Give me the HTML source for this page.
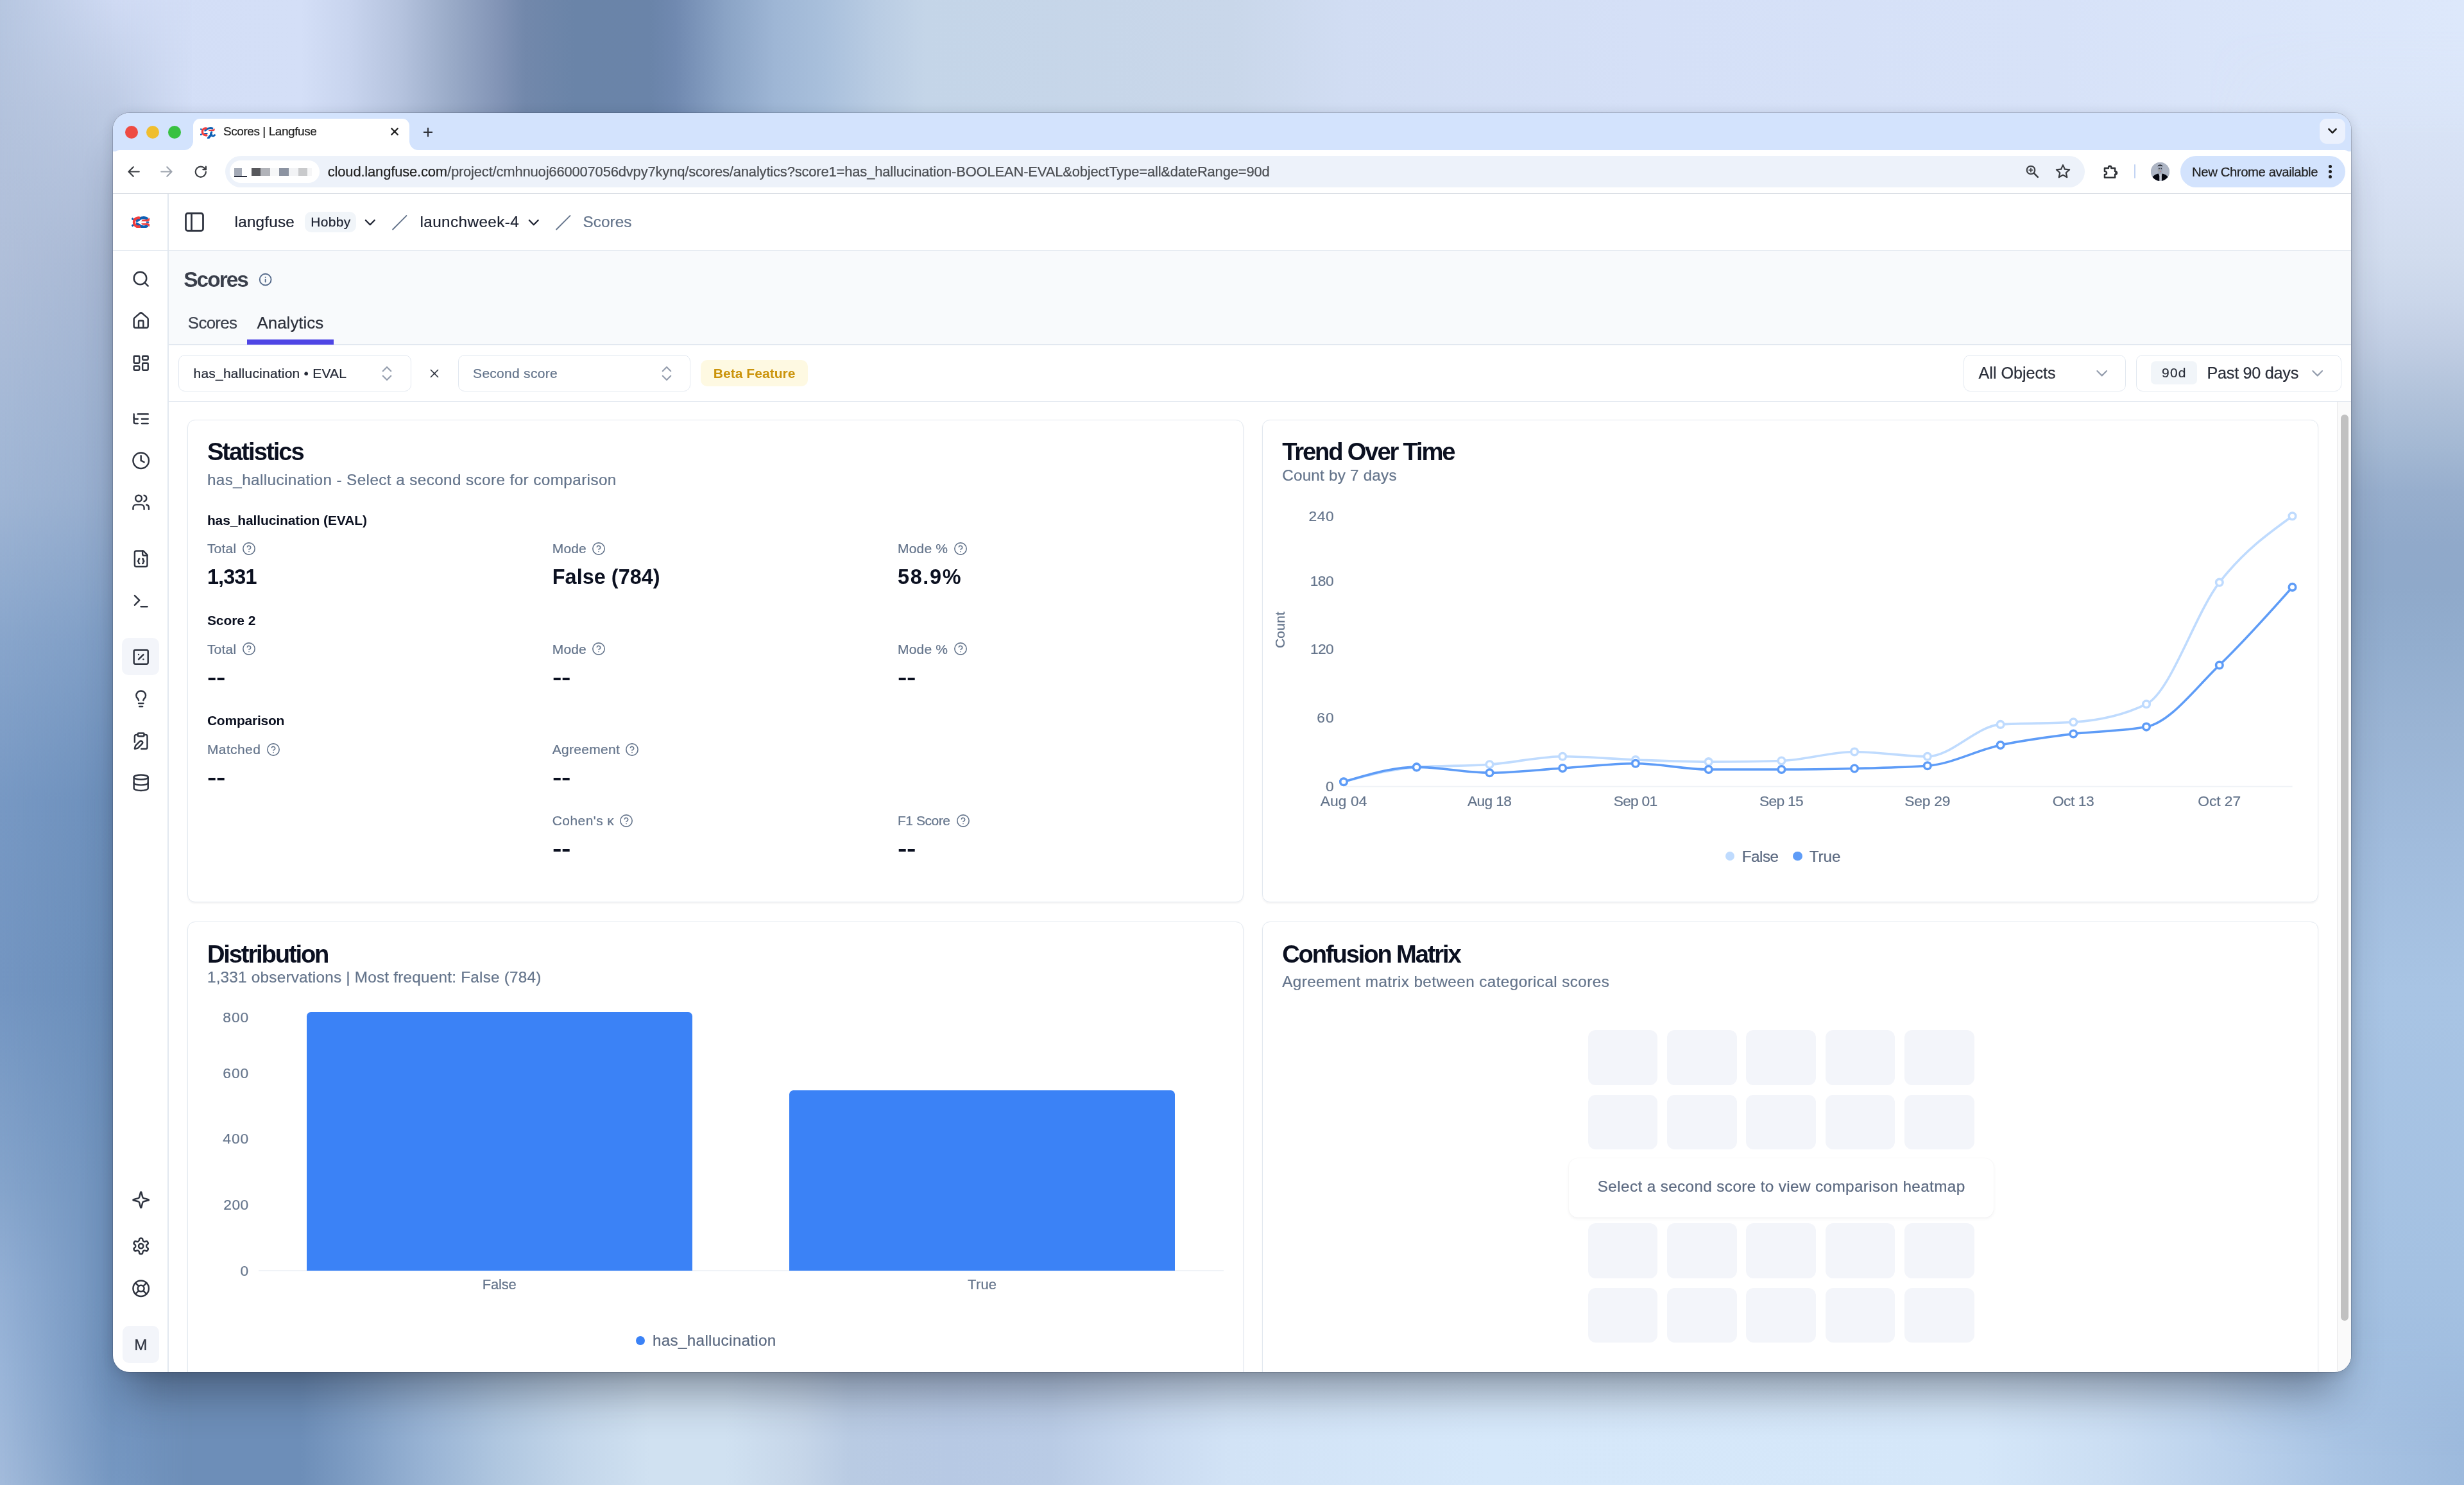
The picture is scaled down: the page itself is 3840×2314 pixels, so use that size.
<!DOCTYPE html>
<html lang="en"><head><meta charset="utf-8"><title>Scores | Langfuse</title>
<style>
html,body{margin:0;padding:0}
body{width:3840px;height:2314px;overflow:hidden;position:relative;background:#a9bfdd;font-family:"Liberation Sans",sans-serif;}
div,span.t,svg.i,svg.a,.g{position:absolute;box-sizing:border-box}
.g{left:0;top:0;display:block}
span.t{white-space:nowrap;line-height:1;display:block;-webkit-text-stroke:0.22px currentColor}
#win{left:176px;top:176px;width:3488px;height:1962px;border-radius:26px;overflow:hidden;background:#fff;}
#winin{left:-176px;top:-176px;width:3840px;height:2314px;will-change:transform}
#shadow{left:176px;top:176px;width:3488px;height:1962px;border-radius:26px;box-shadow:0 0 0 1px rgba(50,60,80,.24),0 54px 68px -24px rgba(28,34,48,.43),0 2px 18px rgba(28,34,48,.17);}
.card{background:#fff;border:1.5px solid #e2e8f0;border-radius:12px;box-shadow:0 1.5px 3px rgba(15,23,42,.05)}
.sel{background:#fff;border:1.5px solid #e2e8f0;border-radius:10px}
</style></head>
<body>
<div id="bgtop" style="left:0;top:0;width:3840px;height:1200px;background:linear-gradient(90deg,#b6c6e0 0.00%,#c3d0ea 2.03%,#d3def6 5.08%,#d4dff7 12.19%,#c8d4ee 14.19%,#b5c3de 16.22%,#9aabc8 18.26%,#8193b5 20.31%,#7288ab 21.30%,#6a84a8 23.33%,#6a84a9 26.38%,#7089b0 27.40%,#8aa3c5 29.43%,#9eb6d5 31.46%,#a9c0dc 33.49%,#b9cce3 35.52%,#c4d5e8 37.55%,#c9d7ea 50.00%,#d1ddf3 54.69%,#d5e0f7 66.67%,#d7e2f8 83.33%,#dde8fb 100.00%)"></div>
<div id="bgbot" style="left:0;top:1200px;width:3840px;height:1114px;background:linear-gradient(90deg,#9fb8d9 0.00%,#86a6cd 2.03%,#7899c3 4.06%,#6d8eb8 6.09%,#6d8eb8 12.19%,#7d9cc3 14.19%,#98b3d4 17.24%,#b0c7e0 20.31%,#c3d6ea 23.33%,#d0e1f1 26.38%,#d0e1f1 29.43%,#c6d6e9 32.47%,#b9cbe3 34.51%,#b7c9e4 38.54%,#b9cbe5 42.63%,#c9daf0 46.69%,#d2e3f6 50.00%,#d6e8fa 60.42%,#d5e7f9 80.21%,#cbdef3 85.62%,#b9d0eb 91.04%,#a9c4e4 95.10%,#9dbadd 100.00%)"></div>
<div id="bgleft" style="left:0;top:0;width:300px;height:2314px;-webkit-mask-image:linear-gradient(90deg,#000 0,#000 60%,transparent 100%);mask-image:linear-gradient(90deg,#000 0,#000 60%,transparent 100%)"><div style="left:0;top:0;width:300px;height:2314px;background:linear-gradient(180deg,#cfdaf3 0.00%,#bccae3 7.61%,#a9b9d5 17.29%,#97aecf 33.32%,#7f9ec6 43.22%,#6d90bc 54.02%,#6a8eba 66.64%,#7093be 79.95%,#7093be 86.43%,#6f91bc 92.39%,#7597c1 100.00%)"></div><div style="left:0;top:0;width:176px;height:2314px;background:linear-gradient(180deg,#b6c6e0 0.00%,#b3c2dc 7.61%,#b0bfd9 17.29%,#9fb5d4 33.32%,#88a5cb 43.22%,#7798c3 54.02%,#7395c1 66.64%,#85a4cb 79.95%,#93afd4 86.43%,#9ab5d8 92.39%,#a3bbdb 100.00%);-webkit-mask-image:linear-gradient(90deg,#000,transparent);mask-image:linear-gradient(90deg,#000,transparent)"></div></div>
<div id="bgright" style="left:3440px;top:0;width:400px;height:2314px;background:linear-gradient(180deg,#dde8fb 0.00%,#d9e4f7 7.61%,#d6e0f3 12.96%,#d1dcee 17.29%,#cad6ea 20.31%,#c0cde3 23.34%,#b1c2da 26.71%,#a3b8d3 30.25%,#97aecd 33.15%,#90a9ca 36.73%,#8fa9ca 39.54%,#92adce 43.22%,#9ab4d4 49.14%,#a0bbdc 56.18%,#a8c4e4 66.64%,#a4c1e2 86.43%,#9dbadd 100.00%);-webkit-mask-image:linear-gradient(180deg,transparent 2%,#000 9%,#000 90%,transparent 98%),linear-gradient(270deg,#000 50%,transparent 100%);mask-image:linear-gradient(180deg,transparent 2%,#000 9%,#000 90%,transparent 98%),linear-gradient(270deg,#000 50%,transparent 100%);-webkit-mask-composite:source-in;mask-composite:intersect"></div>
<div id="shadow"></div>
<div id="win"><div id="winin">
<header class="g" id="browser-chrome">
<div style="left:176.00px;top:176.00px;width:3488.00px;height:60.00px;background:#d3e3fd"></div>
<div style="left:176.00px;top:234.00px;width:3488.00px;height:67.00px;background:#fff;border-radius:10px 10px 0 0"></div>
<div style="left:176.00px;top:300.60px;width:3488.00px;height:1.40px;background:#dbdfe5"></div>
<div style="left:194.90px;top:195.60px;width:20.20px;height:20.20px;background:#ee4b43;border-radius:50%"></div>
<div style="left:228.20px;top:195.60px;width:20.20px;height:20.20px;background:#f0be2e;border-radius:50%"></div>
<div style="left:261.60px;top:195.60px;width:20.20px;height:20.20px;background:#38c141;border-radius:50%"></div>
<div style="left:301.00px;top:185.00px;width:337.00px;height:51.00px;background:#fff;border-radius:11px 11px 0 0"></div>
<div style="left:287.00px;top:220.00px;width:14.00px;height:14.00px;background:radial-gradient(circle at 0 0,rgba(255,255,255,0) 13.5px,#fff 14.3px)"></div>
<div style="left:638.00px;top:220.00px;width:14.00px;height:14.00px;background:radial-gradient(circle at 100% 0,rgba(255,255,255,0) 13.5px,#fff 14.3px)"></div>
<svg class="a" style="left:312.20px;top:197.50px" width="23.80" height="18.84" viewBox="0 0 24 19"><g fill="none" stroke="#0c5fb4"><path d="M0.3 2.6L2.4 4.2M0.3 12.4L2.4 10.8" stroke-width="2.4"/><path d="M6.6 5.9C9 5.2 10.6 2.6 13.6 1.9 16 1.4 18.4 1.6 20.2 2.6" stroke-width="3"/><path d="M6.2 10.2H11.6" stroke-width="2.2"/><path d="M10.8 2.3C7.4 0.9 3.4 3.2 3.4 7.4 3.4 11.6 7.4 13.9 11.2 12.5" stroke="#f03e3e" stroke-width="3.3"/><path d="M12.8 17.3L17.6 11.4" stroke-width="3.6" stroke-linecap="round"/><path d="M19 7.4A3.4 3.4 0 1 0 23.3 11.6" stroke-width="2.9"/></g><path d="M12.8 6.1L14.4 4.3 19.6 4.1 22.6 2.2 23 5 20.8 6.2z" fill="#f03e3e"/></svg>
<span class="t" style="left:348.00px;top:195.30px;font-size:19px;color:#1f1f1f;letter-spacing:-0.441px;">Scores | Langfuse</span>
<svg class="i" style="left:604.50px;top:195.30px;" width="20" height="20" viewBox="0 0 20 20" fill="none" stroke="#1f1f1f" stroke-width="2.3" stroke-linecap="round" stroke-linejoin="round"><path d="M5.3 5.3l9.4 9.4M14.7 5.3L5.3 14.7"/></svg>
<svg class="i" style="left:656.80px;top:195.50px;" width="20" height="20" viewBox="0 0 20 20" fill="none" stroke="#30333a" stroke-width="2.15" stroke-linecap="round" stroke-linejoin="round"><path d="M10 3.8v12.4M3.8 10h12.4"/></svg>
<div style="left:3614.50px;top:185.00px;width:40.50px;height:39.40px;background:#ebf1fd;border-radius:11px"></div>
<svg class="i" style="left:3624.80px;top:194.40px;" width="20" height="20" viewBox="0 0 20 20" fill="none" stroke="#1f1f1f" stroke-width="2.6" stroke-linecap="round" stroke-linejoin="round"><path d="M4.4 7.2l5.6 5.6 5.6-5.6"/></svg>
<svg class="i" style="left:196.60px;top:256.10px;" width="23" height="23" viewBox="0 0 24 24" fill="none" stroke="#3a3d42" stroke-width="2.25" stroke-linecap="round" stroke-linejoin="round"><path d="M20.6 12H3.8M11.2 4.4L3.6 12l7.6 7.6"/></svg>
<svg class="i" style="left:248.30px;top:256.10px;" width="23" height="23" viewBox="0 0 24 24" fill="none" stroke="#9ea4ae" stroke-width="2.25" stroke-linecap="round" stroke-linejoin="round"><path d="M3.4 12h16.8M12.8 4.4l7.6 7.6-7.6 7.6"/></svg>
<svg class="i" style="left:301.80px;top:256.60px;" width="21.6" height="21.6" viewBox="0 0 24 24" fill="none" stroke="#3a3d42" stroke-width="2.45" stroke-linecap="round" stroke-linejoin="round"><path d="M21 12a9 9 0 1 1-9-9c2.52 0 4.93 1 6.74 2.74L21 8"/><path d="M21 3v5h-5"/></svg>
<div style="left:350.50px;top:243.00px;width:2898.90px;height:49.00px;background:#edf2fa;border-radius:24.5px"></div>
<div style="left:357.50px;top:250.00px;width:140.50px;height:34.50px;background:#fff;border-radius:17.3px"></div>
<div style="left:364.80px;top:262.00px;width:12.00px;height:11.80px;background:#a4aab6"></div>
<div style="left:392.00px;top:262.00px;width:14.30px;height:11.80px;background:#57585c"></div>
<div style="left:406.30px;top:262.00px;width:14.50px;height:11.80px;background:#b1b3b9"></div>
<div style="left:420.80px;top:262.00px;width:14.20px;height:11.80px;background:#f6f7f8"></div>
<div style="left:435.00px;top:262.00px;width:15.00px;height:11.80px;background:#8c93a1"></div>
<div style="left:450.00px;top:262.00px;width:14.50px;height:11.80px;background:#f2f3f5"></div>
<div style="left:464.50px;top:262.00px;width:14.50px;height:11.80px;background:#c9cacc"></div>
<div style="left:479.00px;top:262.00px;width:7.00px;height:11.80px;background:#f6f6f7"></div>
<div style="left:365.00px;top:274.30px;width:20.20px;height:1.80px;background:#2a2f3d"></div>
<span class="t" style="left:510.80px;top:256.50px;font-size:22px;color:#4a4d52;letter-spacing:-0.189px;"><span style="color:#1f1f1f">cloud.langfuse.com</span>/project/cmhnuoj660007056dvpy7kynq/scores/analytics?score1=has_hallucination-BOOLEAN-EVAL&amp;objectType=all&amp;dateRange=90d</span>
<svg class="i" style="left:3155.30px;top:255.00px;" width="24" height="24" viewBox="0 0 24 24" fill="none" stroke="#3a3d42" stroke-width="2.1" stroke-linecap="round" stroke-linejoin="round"><circle cx="10" cy="10" r="6.3"/><path d="M14.8 14.8l6 6" stroke-width="2.6"/><path d="M10 7.2v5.6M7.2 10h5.6" stroke-width="1.7"/></svg>
<svg class="i" style="left:3201.50px;top:253.60px;" width="26" height="26" viewBox="0 0 24 24" fill="none" stroke="#3a3d42" stroke-width="2" stroke-linecap="round" stroke-linejoin="round"><path d="M12 2.9l2.75 6.05 6.6.68-4.95 4.42 1.42 6.48L12 17.2l-5.82 3.33 1.42-6.48-4.95-4.42 6.6-.68z"/></svg>
<svg class="i" style="left:3274.60px;top:252.80px;" width="28" height="28" viewBox="0 0 26 26" fill="none" stroke="#2f3237" stroke-width="2.3" stroke-linecap="round" stroke-linejoin="round"><path d="M4.6 8.4h5.6v-1a2 2 0 0 1 4 0v1h5.4v4.6h.5a2.2 2.2 0 0 1 0 4.4h-.5v4.6H4.6v-4.3h.6a2.3 2.3 0 0 0 0-4.6h-.6z"/><path d="M19.8 13.3h.7a1.9 1.9 0 0 1 0 3.8h-.7z" fill="#2f3237" stroke="none"/></svg>
<div style="left:3325.80px;top:256.00px;width:2.00px;height:22.40px;background:#c3d4f3;border-radius:1px"></div>
<div style="left:3351.90px;top:252.70px;width:29.40px;height:29.40px;border-radius:50%;overflow:hidden;background:#adb5c4"><svg class="a" style="left:0;top:0" width="29.4" height="29.4" viewBox="0 0 29 29"><rect width="29" height="29" fill="#adb5c4"/><path d="M2.3 23.4C3.8 19.6 9 17.6 11.6 17.2L13.3 21V29H1.5z" fill="#04060f"/><path d="M26.7 23.4C25.2 19.6 20 17.6 17.4 17.2L16.5 21V29H27.5z" fill="#04060f"/><path d="M13.3 18.6h3.2V29h-3.2z" fill="#c8ccd6"/><ellipse cx="14.3" cy="11.2" rx="3.9" ry="6.4" fill="#9fa7b7"/><path d="M10.5 6.6C10.6 2.4 17.9 2.4 18.1 6.6 16 4.7 12.6 4.7 10.5 6.6z" fill="#0a0c14"/><circle cx="12.8" cy="9.5" r=".85" fill="#2a2d36"/><circle cx="16" cy="9.5" r=".85" fill="#3a3d46"/><circle cx="14.6" cy="13.8" r=".6" fill="#f03a3a"/><circle cx="12.6" cy="11.8" r=".5" fill="#e8a61c"/></svg></div>
<div style="left:3397.90px;top:243.10px;width:257.10px;height:48.90px;background:#d3e3fd;border-radius:24.5px"></div>
<span class="t" style="left:3416.10px;top:257.50px;font-size:20.4px;color:#1f1f1f;letter-spacing:-0.460px;">New Chrome available</span>
<div style="left:3629.40px;top:257.30px;width:4.60px;height:4.60px;background:#1f1f1f;border-radius:50%"></div>
<div style="left:3629.40px;top:265.30px;width:4.60px;height:4.60px;background:#1f1f1f;border-radius:50%"></div>
<div style="left:3629.40px;top:273.30px;width:4.60px;height:4.60px;background:#1f1f1f;border-radius:50%"></div>
</header>
<nav class="g" id="sidebar">
<div style="left:261.30px;top:302.00px;width:1.50px;height:1836.00px;background:#e2e8f0"></div>
<div style="left:176.00px;top:389.80px;width:3488.00px;height:1.50px;background:#e2e8f0"></div>
<svg class="a" style="left:205.20px;top:336.50px" width="28.70" height="18.70" viewBox="0 0 28.7 18.7"><g fill="none" stroke="#0c5fb4" stroke-width="3"><path d="M0.4 3.3L3.2 5.4M0.4 15.4L3.2 13.3"/><path d="M7 7.5C10 6.8 12.4 3.6 16 2.6 19 1.8 22.6 2.2 25.2 4.4" stroke-width="4.2"/><path d="M7 11.2C10 11.9 12.4 15.1 16 16.1 19 16.9 22.6 16.5 25.2 14.3" stroke-width="4.2"/><path d="M13.2 2.7C9 1.2 3.9 4 3.9 9.35 3.9 14.7 9 17.5 13.8 16" stroke="#f03e3e" stroke-width="4.2"/></g><path d="M15 7.7L17.2 5.3 24.2 5 27.9 2.5 28.3 6.3 25.4 7.9z" fill="#f03e3e"/><path d="M15 11L17.2 13.4 24.2 13.7 27.9 16.2 28.3 12.4 25.4 10.8z" fill="#f03e3e"/><path d="M23 8.3h4.2v2.1H23z" fill="#0c5fb4"/></svg>
<div style="left:190.00px;top:994.40px;width:58.40px;height:58.00px;background:#f3f5fa;border-radius:10px"></div>
<svg class="i" style="left:204.80px;top:419.80px;" width="29.4" height="29.4" viewBox="0 0 24 24" fill="none" stroke="#2f3440" stroke-width="2" stroke-linecap="round" stroke-linejoin="round"><circle cx="11" cy="11" r="8"/><path d="m21 21-4.3-4.3"/></svg>
<svg class="i" style="left:204.80px;top:484.80px;" width="29.4" height="29.4" viewBox="0 0 24 24" fill="none" stroke="#2f3440" stroke-width="2" stroke-linecap="round" stroke-linejoin="round"><path d="M15 21v-8a1 1 0 0 0-1-1h-4a1 1 0 0 0-1 1v8"/><path d="M3 10a2 2 0 0 1 .709-1.528l7-5.999a2 2 0 0 1 2.582 0l7 5.999A2 2 0 0 1 21 10v9a2 2 0 0 1-2 2H5a2 2 0 0 1-2-2z"/></svg>
<svg class="i" style="left:204.80px;top:550.80px;" width="29.4" height="29.4" viewBox="0 0 24 24" fill="none" stroke="#2f3440" stroke-width="2" stroke-linecap="round" stroke-linejoin="round"><rect width="7" height="9" x="3" y="3" rx="1"/><rect width="7" height="5" x="14" y="3" rx="1"/><rect width="7" height="9" x="14" y="12" rx="1"/><rect width="7" height="5" x="3" y="16" rx="1"/></svg>
<svg class="i" style="left:204.80px;top:637.80px;" width="29.4" height="29.4" viewBox="0 0 24 24" fill="none" stroke="#2f3440" stroke-width="2" stroke-linecap="round" stroke-linejoin="round"><path d="M21 12h-8"/><path d="M21 6H8"/><path d="M21 18h-8"/><path d="M3 6v4c0 1.1.9 2 2 2h3"/><path d="M3 10v6c0 1.1.9 2 2 2h3"/></svg>
<svg class="i" style="left:204.80px;top:703.30px;" width="29.4" height="29.4" viewBox="0 0 24 24" fill="none" stroke="#2f3440" stroke-width="2" stroke-linecap="round" stroke-linejoin="round"><circle cx="12" cy="12" r="10"/><polyline points="12 6 12 12 16 14"/></svg>
<svg class="i" style="left:204.80px;top:767.70px;" width="29.4" height="29.4" viewBox="0 0 24 24" fill="none" stroke="#2f3440" stroke-width="2" stroke-linecap="round" stroke-linejoin="round"><path d="M16 21v-2a4 4 0 0 0-4-4H6a4 4 0 0 0-4 4v2"/><circle cx="9" cy="7" r="4"/><path d="M22 21v-2a4 4 0 0 0-3-3.87"/><path d="M16 3.13a4 4 0 0 1 0 7.75"/></svg>
<svg class="i" style="left:204.80px;top:856.00px;" width="29.4" height="29.4" viewBox="0 0 24 24" fill="none" stroke="#2f3440" stroke-width="2" stroke-linecap="round" stroke-linejoin="round"><path d="M15 2H6a2 2 0 0 0-2 2v16a2 2 0 0 0 2 2h12a2 2 0 0 0 2-2V7Z"/><path d="M14 2v4a2 2 0 0 0 2 2h4"/><path d="M10 12a1 1 0 0 0-1 1v1a1 1 0 0 1-1 1 1 1 0 0 1 1 1v1a1 1 0 0 0 1 1"/><path d="M14 18a1 1 0 0 0 1-1v-1a1 1 0 0 1 1-1 1 1 0 0 1-1-1v-1a1 1 0 0 0-1-1"/></svg>
<svg class="i" style="left:204.80px;top:921.50px;" width="29.4" height="29.4" viewBox="0 0 24 24" fill="none" stroke="#2f3440" stroke-width="2" stroke-linecap="round" stroke-linejoin="round"><polyline points="4 17 10 11 4 5"/><line x1="12" x2="20" y1="19" y2="19"/></svg>
<svg class="i" style="left:204.80px;top:1008.80px;" width="29.4" height="29.4" viewBox="0 0 24 24" fill="none" stroke="#2f3440" stroke-width="2" stroke-linecap="round" stroke-linejoin="round"><rect width="18" height="18" x="3" y="3" rx="2"/><path d="m15 9-6 6"/><path d="M9 9h.01"/><path d="M15 15h.01"/></svg>
<svg class="i" style="left:204.80px;top:1073.70px;" width="29.4" height="29.4" viewBox="0 0 24 24" fill="none" stroke="#2f3440" stroke-width="2" stroke-linecap="round" stroke-linejoin="round"><path d="M15 14c.2-1 .7-1.7 1.5-2.5 1-.9 1.5-2.2 1.5-3.5A6 6 0 0 0 6 8c0 1 .2 2.2 1.5 3.5.7.7 1.3 1.5 1.5 2.5"/><path d="M9 18h6"/><path d="M10 22h4"/></svg>
<svg class="i" style="left:204.80px;top:1139.70px;" width="29.4" height="29.4" viewBox="0 0 24 24" fill="none" stroke="#2f3440" stroke-width="2" stroke-linecap="round" stroke-linejoin="round"><rect width="8" height="4" x="8" y="2" rx="1"/><path d="M16 4h2a2 2 0 0 1 2 2v14a2 2 0 0 1-2 2h-5.5"/><path d="M4 13.5V6a2 2 0 0 1 2-2h2"/><path d="M13.378 15.626a1 1 0 1 0-3.004-3.004l-5.01 5.012a2 2 0 0 0-.506.854l-.837 2.87a.5.5 0 0 0 .62.62l2.87-.837a2 2 0 0 0 .854-.506z"/></svg>
<svg class="i" style="left:204.80px;top:1204.60px;" width="29.4" height="29.4" viewBox="0 0 24 24" fill="none" stroke="#2f3440" stroke-width="2" stroke-linecap="round" stroke-linejoin="round"><ellipse cx="12" cy="5" rx="9" ry="3"/><path d="M3 5V19A9 3 0 0 0 21 19V5"/><path d="M3 12A9 3 0 0 0 21 12"/></svg>
<svg class="i" style="left:204.80px;top:1854.80px;" width="29.4" height="29.4" viewBox="0 0 24 24" fill="none" stroke="#2f3440" stroke-width="2" stroke-linecap="round" stroke-linejoin="round"><path d="M9.937 15.5A2 2 0 0 0 8.5 14.063l-6.135-1.582a.5.5 0 0 1 0-.962L8.5 9.936A2 2 0 0 0 9.937 8.5l1.582-6.135a.5.5 0 0 1 .963 0L14.063 8.5A2 2 0 0 0 15.5 9.937l6.135 1.581a.5.5 0 0 1 0 .964L15.5 14.063a2 2 0 0 0-1.437 1.437l-1.582 6.135a.5.5 0 0 1-.963 0z"/></svg>
<svg class="i" style="left:204.80px;top:1927.10px;" width="29.4" height="29.4" viewBox="0 0 24 24" fill="none" stroke="#2f3440" stroke-width="2" stroke-linecap="round" stroke-linejoin="round"><path d="M12.22 2h-.44a2 2 0 0 0-2 2v.18a2 2 0 0 1-1 1.73l-.43.25a2 2 0 0 1-2 0l-.15-.08a2 2 0 0 0-2.73.73l-.22.38a2 2 0 0 0 .73 2.73l.15.1a2 2 0 0 1 1 1.72v.51a2 2 0 0 1-1 1.74l-.15.09a2 2 0 0 0-.73 2.73l.22.38a2 2 0 0 0 2.73.73l.15-.08a2 2 0 0 1 2 0l.43.25a2 2 0 0 1 1 1.73V20a2 2 0 0 0 2 2h.44a2 2 0 0 0 2-2v-.18a2 2 0 0 1 1-1.73l.43-.25a2 2 0 0 1 2 0l.15.08a2 2 0 0 0 2.73-.73l.22-.39a2 2 0 0 0-.73-2.73l-.15-.08a2 2 0 0 1-1-1.74v-.5a2 2 0 0 1 1-1.74l.15-.09a2 2 0 0 0 .73-2.73l-.22-.38a2 2 0 0 0-2.73-.73l-.15.08a2 2 0 0 1-2 0l-.43-.25a2 2 0 0 1-1-1.73V4a2 2 0 0 0-2-2z"/><circle cx="12" cy="12" r="3"/></svg>
<svg class="i" style="left:204.80px;top:1992.60px;" width="29.4" height="29.4" viewBox="0 0 24 24" fill="none" stroke="#2f3440" stroke-width="2" stroke-linecap="round" stroke-linejoin="round"><circle cx="12" cy="12" r="10"/><path d="m4.93 4.93 4.24 4.24"/><path d="m14.83 9.17 4.24-4.24"/><path d="m14.83 14.83 4.24 4.24"/><path d="m9.17 14.83-4.24 4.24"/><circle cx="12" cy="12" r="4"/></svg>
<div style="left:190.90px;top:2066.20px;width:57.60px;height:57.60px;background:#f3f5fa;border-radius:10px"></div>
<span class="t" style="left:209.28px;top:2083.55px;font-size:24.3px;color:#2f3440;">M</span>
</nav>
<header class="g" id="topbar">
<svg class="i" style="left:284.80px;top:327.90px;" width="36" height="36" viewBox="0 0 24 24" fill="none" stroke="#2f3440" stroke-width="1.85" stroke-linecap="round" stroke-linejoin="round"><rect width="18" height="18" x="3" y="3" rx="2"/><path d="M9 3v18"/></svg>
<span class="t" style="left:365.60px;top:333.75px;font-size:24.3px;color:#1c2130;letter-spacing:0.189px;">langfuse</span>
<div style="left:474.50px;top:329.50px;width:80.50px;height:32.50px;background:#f1f5f9;border-radius:10px"></div>
<span class="t" style="left:484.30px;top:335.30px;font-size:21px;color:#1c2130;letter-spacing:0.324px;">Hobby</span>
<svg class="i" style="left:563.05px;top:332.65px;" width="27.5" height="27.5" viewBox="0 0 24 24" fill="none" stroke="#1c2130" stroke-width="2" stroke-linecap="round" stroke-linejoin="round"><path d="m6 9 6 6 6-6"/></svg>
<svg class="i" style="left:609.60px;top:333.80px;" width="25.6" height="25.6" viewBox="0 0 24 24" fill="none" stroke="#64748b" stroke-width="1.8" stroke-linecap="round" stroke-linejoin="round"><path d="M22 2 2 22"/></svg>
<span class="t" style="left:654.50px;top:333.75px;font-size:24.3px;color:#1c2130;letter-spacing:0.398px;">launchweek-4</span>
<svg class="i" style="left:818.45px;top:332.65px;" width="27.5" height="27.5" viewBox="0 0 24 24" fill="none" stroke="#1c2130" stroke-width="2" stroke-linecap="round" stroke-linejoin="round"><path d="m6 9 6 6 6-6"/></svg>
<svg class="i" style="left:864.60px;top:333.80px;" width="25.6" height="25.6" viewBox="0 0 24 24" fill="none" stroke="#64748b" stroke-width="1.8" stroke-linecap="round" stroke-linejoin="round"><path d="M22 2 2 22"/></svg>
<span class="t" style="left:908.60px;top:333.75px;font-size:24.3px;color:#64748b;letter-spacing:0.035px;">Scores</span>
</header>
<div class="g" id="page-header">
<div style="left:262.80px;top:391.30px;width:3401.20px;height:145.10px;background:#f8fafc"></div>
<div style="left:262.80px;top:536.20px;width:3401.20px;height:1.50px;background:#e2e8f0"></div>
<span class="t" style="left:286.20px;top:419.30px;font-size:33.4px;color:#3a3f4b;font-weight:700;-webkit-text-stroke:0;letter-spacing:-1.925px;">Scores</span>
<svg class="i" style="left:403.15px;top:425.15px;" width="21.3" height="21.3" viewBox="0 0 24 24" fill="none" stroke="#54698a" stroke-width="2.1" stroke-linecap="round" stroke-linejoin="round"><circle cx="12" cy="12" r="10"/><path d="M12 16v-4"/><path d="M12 8h.01"/></svg>
<span class="t" style="left:292.80px;top:491.05px;font-size:25.9px;color:#3c414d;letter-spacing:-0.679px;">Scores</span>
<span class="t" style="left:400.50px;top:491.05px;font-size:25.9px;color:#2a2e39;letter-spacing:0.018px;">Analytics</span>
<div style="left:385.00px;top:529.00px;width:134.50px;height:7.60px;background:#4f46e5"></div>
</div>
<div class="g" id="filter-bar">
<div style="left:262.80px;top:624.80px;width:3401.20px;height:1.50px;background:#e2e8f0"></div>
<div class="sel" style="left:278.00px;top:552.50px;width:362.50px;height:57.50px;"></div>
<span class="t" style="left:301.50px;top:571.00px;font-size:21px;color:#262b38;letter-spacing:0.219px;">has_hallucination • EVAL</span>
<svg class="i" style="left:588.30px;top:566.80px;" width="30" height="30" viewBox="0 0 24 24" fill="none" stroke="#949dad" stroke-width="1.75" stroke-linecap="round" stroke-linejoin="round"><path d="m7 15 5 5 5-5"/><path d="m7 9 5-5 5 5"/></svg>
<svg class="i" style="left:666.00px;top:570.80px;" width="22" height="22" viewBox="0 0 24 24" fill="none" stroke="#2f3440" stroke-width="1.9" stroke-linecap="round" stroke-linejoin="round"><path d="M18 6 6 18"/><path d="m6 6 12 12"/></svg>
<div class="sel" style="left:714.00px;top:552.50px;width:362.40px;height:57.50px;"></div>
<span class="t" style="left:737.10px;top:571.00px;font-size:21px;color:#64748b;letter-spacing:0.280px;">Second score</span>
<svg class="i" style="left:1024.00px;top:566.80px;" width="30" height="30" viewBox="0 0 24 24" fill="none" stroke="#949dad" stroke-width="1.75" stroke-linecap="round" stroke-linejoin="round"><path d="m7 15 5 5 5-5"/><path d="m7 9 5-5 5 5"/></svg>
<div style="left:1092.00px;top:561.00px;width:167.20px;height:40.60px;background:#fef9e2;border-radius:10px"></div>
<span class="t" style="left:1111.70px;top:570.60px;font-size:21px;color:#cb940c;font-weight:700;-webkit-text-stroke:0;letter-spacing:0.053px;">Beta Feature</span>
<div class="sel" style="left:3059.70px;top:552.50px;width:253.50px;height:57.50px;"></div>
<span class="t" style="left:3083.60px;top:568.70px;font-size:25.2px;color:#2a2e39;letter-spacing:-0.039px;">All Objects</span>
<svg class="i" style="left:3261.10px;top:567.30px;" width="29.4" height="29.4" viewBox="0 0 24 24" fill="none" stroke="#949dad" stroke-width="1.75" stroke-linecap="round" stroke-linejoin="round"><path d="m6 9 6 6 6-6"/></svg>
<div class="sel" style="left:3328.80px;top:552.50px;width:320.00px;height:57.50px;"></div>
<div style="left:3351.70px;top:563.10px;width:72.20px;height:35.90px;background:#f1f5f9;border-radius:7px"></div>
<span class="t" style="left:3369.05px;top:570.40px;font-size:21px;color:#2a2e39;letter-spacing:1.227px;">90d</span>
<span class="t" style="left:3439.50px;top:568.70px;font-size:25.2px;color:#2a2e39;letter-spacing:-0.257px;">Past 90 days</span>
<svg class="i" style="left:3596.70px;top:567.30px;" width="29.4" height="29.4" viewBox="0 0 24 24" fill="none" stroke="#949dad" stroke-width="1.75" stroke-linecap="round" stroke-linejoin="round"><path d="m6 9 6 6 6-6"/></svg>
</div>
<div style="left:3642.00px;top:626.30px;width:22.00px;height:1511.70px;background:#fafafa;border-left:1.5px solid #e9e9eb"></div>
<div style="left:3648.10px;top:645.90px;width:11.50px;height:1412.60px;background:#c1c1c1;border-radius:6px"></div>
<main class="g" id="analytics">
<section class="g" id="statistics">
<div class="card" style="left:292.30px;top:654.40px;width:1645.40px;height:751.40px;"></div>
<span class="t" style="left:322.90px;top:684.90px;font-size:38.2px;color:#0b1020;font-weight:700;-webkit-text-stroke:0;letter-spacing:-1.989px;">Statistics</span>
<span class="t" style="left:322.90px;top:735.85px;font-size:24.3px;color:#64748b;letter-spacing:0.393px;">has_hallucination - Select a second score for comparison</span>
<span class="t" style="left:322.90px;top:799.90px;font-size:21px;color:#0b1020;font-weight:700;-webkit-text-stroke:0;letter-spacing:-0.115px;">has_hallucination (EVAL)</span>
<span class="t" style="left:322.90px;top:844.25px;font-size:21px;color:#64748b;letter-spacing:0.210px;">Total</span><svg class="i" style="left:376.70px;top:844.05px;" width="22" height="22" viewBox="0 0 24 24" fill="none" stroke="#64748b" stroke-width="1.75" stroke-linecap="round" stroke-linejoin="round"><circle cx="12" cy="12" r="10"/><path d="M9.09 9a3 3 0 0 1 5.83 1c0 2-3 3-3 3"/><path d="M12 17h.01"/></svg><span class="t" style="left:322.90px;top:883.25px;font-size:32.4px;color:#0b1020;font-weight:700;-webkit-text-stroke:0;letter-spacing:-0.866px;">1,331</span>
<span class="t" style="left:860.80px;top:844.25px;font-size:21px;color:#64748b;letter-spacing:0.123px;">Mode</span><svg class="i" style="left:922.30px;top:844.05px;" width="22" height="22" viewBox="0 0 24 24" fill="none" stroke="#64748b" stroke-width="1.75" stroke-linecap="round" stroke-linejoin="round"><circle cx="12" cy="12" r="10"/><path d="M9.09 9a3 3 0 0 1 5.83 1c0 2-3 3-3 3"/><path d="M12 17h.01"/></svg><span class="t" style="left:860.80px;top:883.25px;font-size:32.4px;color:#0b1020;font-weight:700;-webkit-text-stroke:0;letter-spacing:0.035px;">False (784)</span>
<span class="t" style="left:1399.00px;top:844.25px;font-size:21px;color:#64748b;letter-spacing:0.191px;">Mode %</span><svg class="i" style="left:1485.60px;top:844.05px;" width="22" height="22" viewBox="0 0 24 24" fill="none" stroke="#64748b" stroke-width="1.75" stroke-linecap="round" stroke-linejoin="round"><circle cx="12" cy="12" r="10"/><path d="M9.09 9a3 3 0 0 1 5.83 1c0 2-3 3-3 3"/><path d="M12 17h.01"/></svg><span class="t" style="left:1399.00px;top:883.25px;font-size:32.4px;color:#0b1020;font-weight:700;-webkit-text-stroke:0;letter-spacing:1.664px;">58.9%</span>
<span class="t" style="left:322.90px;top:956.20px;font-size:21px;color:#0b1020;font-weight:700;-webkit-text-stroke:0;letter-spacing:-0.065px;">Score 2</span>
<span class="t" style="left:322.90px;top:1000.60px;font-size:21px;color:#64748b;letter-spacing:0.210px;">Total</span><svg class="i" style="left:376.70px;top:1000.40px;" width="22" height="22" viewBox="0 0 24 24" fill="none" stroke="#64748b" stroke-width="1.75" stroke-linecap="round" stroke-linejoin="round"><circle cx="12" cy="12" r="10"/><path d="M9.09 9a3 3 0 0 1 5.83 1c0 2-3 3-3 3"/><path d="M12 17h.01"/></svg><span class="t" style="left:322.60px;top:1039.60px;font-size:32.4px;color:#0b1020;font-weight:700;-webkit-text-stroke:0;letter-spacing:-0.378px;transform:scaleX(1.34);transform-origin:0 50%;">--</span>
<span class="t" style="left:860.80px;top:1000.60px;font-size:21px;color:#64748b;letter-spacing:0.123px;">Mode</span><svg class="i" style="left:922.30px;top:1000.40px;" width="22" height="22" viewBox="0 0 24 24" fill="none" stroke="#64748b" stroke-width="1.75" stroke-linecap="round" stroke-linejoin="round"><circle cx="12" cy="12" r="10"/><path d="M9.09 9a3 3 0 0 1 5.83 1c0 2-3 3-3 3"/><path d="M12 17h.01"/></svg><span class="t" style="left:860.50px;top:1039.60px;font-size:32.4px;color:#0b1020;font-weight:700;-webkit-text-stroke:0;letter-spacing:-0.378px;transform:scaleX(1.34);transform-origin:0 50%;">--</span>
<span class="t" style="left:1399.00px;top:1000.60px;font-size:21px;color:#64748b;letter-spacing:0.191px;">Mode %</span><svg class="i" style="left:1485.60px;top:1000.40px;" width="22" height="22" viewBox="0 0 24 24" fill="none" stroke="#64748b" stroke-width="1.75" stroke-linecap="round" stroke-linejoin="round"><circle cx="12" cy="12" r="10"/><path d="M9.09 9a3 3 0 0 1 5.83 1c0 2-3 3-3 3"/><path d="M12 17h.01"/></svg><span class="t" style="left:1398.70px;top:1039.60px;font-size:32.4px;color:#0b1020;font-weight:700;-webkit-text-stroke:0;letter-spacing:-0.378px;transform:scaleX(1.34);transform-origin:0 50%;">--</span>
<span class="t" style="left:322.90px;top:1112.40px;font-size:21px;color:#0b1020;font-weight:700;-webkit-text-stroke:0;letter-spacing:-0.224px;">Comparison</span>
<span class="t" style="left:322.90px;top:1156.90px;font-size:21px;color:#64748b;letter-spacing:0.409px;">Matched</span><svg class="i" style="left:414.50px;top:1156.70px;" width="22" height="22" viewBox="0 0 24 24" fill="none" stroke="#64748b" stroke-width="1.75" stroke-linecap="round" stroke-linejoin="round"><circle cx="12" cy="12" r="10"/><path d="M9.09 9a3 3 0 0 1 5.83 1c0 2-3 3-3 3"/><path d="M12 17h.01"/></svg><span class="t" style="left:322.60px;top:1195.90px;font-size:32.4px;color:#0b1020;font-weight:700;-webkit-text-stroke:0;letter-spacing:-0.378px;transform:scaleX(1.34);transform-origin:0 50%;">--</span>
<span class="t" style="left:860.80px;top:1156.90px;font-size:21px;color:#64748b;letter-spacing:0.283px;">Agreement</span><svg class="i" style="left:974.40px;top:1156.70px;" width="22" height="22" viewBox="0 0 24 24" fill="none" stroke="#64748b" stroke-width="1.75" stroke-linecap="round" stroke-linejoin="round"><circle cx="12" cy="12" r="10"/><path d="M9.09 9a3 3 0 0 1 5.83 1c0 2-3 3-3 3"/><path d="M12 17h.01"/></svg><span class="t" style="left:860.50px;top:1195.90px;font-size:32.4px;color:#0b1020;font-weight:700;-webkit-text-stroke:0;letter-spacing:-0.378px;transform:scaleX(1.34);transform-origin:0 50%;">--</span>
<span class="t" style="left:860.80px;top:1268.20px;font-size:21px;color:#64748b;letter-spacing:0.408px;">Cohen's κ</span><svg class="i" style="left:965.40px;top:1268.00px;" width="22" height="22" viewBox="0 0 24 24" fill="none" stroke="#64748b" stroke-width="1.75" stroke-linecap="round" stroke-linejoin="round"><circle cx="12" cy="12" r="10"/><path d="M9.09 9a3 3 0 0 1 5.83 1c0 2-3 3-3 3"/><path d="M12 17h.01"/></svg><span class="t" style="left:860.50px;top:1307.20px;font-size:32.4px;color:#0b1020;font-weight:700;-webkit-text-stroke:0;letter-spacing:-0.378px;transform:scaleX(1.34);transform-origin:0 50%;">--</span>
<span class="t" style="left:1399.00px;top:1268.20px;font-size:21px;color:#64748b;letter-spacing:-0.458px;">F1 Score</span><svg class="i" style="left:1489.60px;top:1268.00px;" width="22" height="22" viewBox="0 0 24 24" fill="none" stroke="#64748b" stroke-width="1.75" stroke-linecap="round" stroke-linejoin="round"><circle cx="12" cy="12" r="10"/><path d="M9.09 9a3 3 0 0 1 5.83 1c0 2-3 3-3 3"/><path d="M12 17h.01"/></svg><span class="t" style="left:1398.70px;top:1307.20px;font-size:32.4px;color:#0b1020;font-weight:700;-webkit-text-stroke:0;letter-spacing:-0.378px;transform:scaleX(1.34);transform-origin:0 50%;">--</span>
</section><section class="g" id="trend">
<div class="card" style="left:1967.30px;top:654.40px;width:1645.30px;height:751.40px;"></div>
<span class="t" style="left:1998.30px;top:684.90px;font-size:38.2px;color:#0b1020;font-weight:700;-webkit-text-stroke:0;letter-spacing:-2.177px;">Trend Over Time</span>
<span class="t" style="left:1998.20px;top:728.75px;font-size:24.3px;color:#64748b;letter-spacing:0.200px;">Count by 7 days</span>
<svg class="a" style="left:1980px;top:780px" width="1620" height="480" viewBox="0 0 1620 480" fill="none"><path d="M114.0 445.6H1592.6" stroke="#f0f3f7" stroke-width="1.6"/><path d="M114.0 438.3C151.9 428.2 189.8 418.1 227.7 415.4C265.6 412.7 303.6 414.0 341.5 411.3C379.4 408.6 417.3 398.8 455.2 398.8C493.1 398.8 531.0 402.6 568.9 404.0C606.8 405.4 644.7 407.1 682.7 407.1C720.6 407.1 758.5 406.6 796.4 405.5C834.3 404.4 872.2 391.5 910.1 391.5C948.0 391.5 985.9 398.8 1023.8 398.8C1061.8 398.8 1099.7 351.3 1137.6 348.9C1175.5 346.5 1213.4 347.7 1251.3 345.3C1289.2 342.9 1327.1 335.9 1365.0 317.2C1402.9 298.5 1440.9 176.4 1478.8 127.6C1516.7 78.8 1554.6 51.5 1592.5 24.2" stroke="#bfdbfe" stroke-width="3.6" stroke-linecap="round" stroke-linejoin="round"/><g fill="#fff" stroke="#bfdbfe" stroke-width="3.6"><circle cx="114.0" cy="438.3" r="5.25"/><circle cx="227.7" cy="415.4" r="5.25"/><circle cx="341.5" cy="411.3" r="5.25"/><circle cx="455.2" cy="398.8" r="5.25"/><circle cx="568.9" cy="404.0" r="5.25"/><circle cx="682.7" cy="407.1" r="5.25"/><circle cx="796.4" cy="405.5" r="5.25"/><circle cx="910.1" cy="391.5" r="5.25"/><circle cx="1023.8" cy="398.8" r="5.25"/><circle cx="1137.6" cy="348.9" r="5.25"/><circle cx="1251.3" cy="345.3" r="5.25"/><circle cx="1365.0" cy="317.2" r="5.25"/><circle cx="1478.8" cy="127.6" r="5.25"/><circle cx="1592.5" cy="24.2" r="5.25"/></g><path d="M114.0 438.3C151.9 426.9 189.8 415.4 227.7 415.4C265.6 415.4 303.6 424.2 341.5 424.2C379.4 424.2 417.3 419.4 455.2 417.0C493.1 414.6 531.0 409.7 568.9 409.7C606.8 409.7 644.7 419.0 682.7 419.0C720.6 419.0 758.5 419.0 796.4 419.0C834.3 419.0 872.2 418.4 910.1 417.5C948.0 416.6 985.9 416.1 1023.8 413.3C1061.8 410.5 1099.7 389.4 1137.6 381.1C1175.5 372.8 1213.4 368.2 1251.3 363.5C1289.2 358.8 1327.1 359.9 1365.0 352.6C1402.9 345.3 1440.9 292.8 1478.8 256.5C1516.7 220.2 1554.6 177.6 1592.5 134.9" stroke="#5e9cf7" stroke-width="3.6" stroke-linecap="round" stroke-linejoin="round"/><g fill="#fff" stroke="#5e9cf7" stroke-width="3.6"><circle cx="114.0" cy="438.3" r="5.25"/><circle cx="227.7" cy="415.4" r="5.25"/><circle cx="341.5" cy="424.2" r="5.25"/><circle cx="455.2" cy="417.0" r="5.25"/><circle cx="568.9" cy="409.7" r="5.25"/><circle cx="682.7" cy="419.0" r="5.25"/><circle cx="796.4" cy="419.0" r="5.25"/><circle cx="910.1" cy="417.5" r="5.25"/><circle cx="1023.8" cy="413.3" r="5.25"/><circle cx="1137.6" cy="381.1" r="5.25"/><circle cx="1251.3" cy="363.5" r="5.25"/><circle cx="1365.0" cy="352.6" r="5.25"/><circle cx="1478.8" cy="256.5" r="5.25"/><circle cx="1592.5" cy="134.9" r="5.25"/></g></svg>
<span class="t" style="left:2039.60px;top:792.90px;font-size:22.8px;color:#64748b;letter-spacing:0.477px;">240</span>
<span class="t" style="left:2041.70px;top:893.70px;font-size:22.8px;color:#64748b;letter-spacing:-0.573px;">180</span>
<span class="t" style="left:2042.10px;top:1000.20px;font-size:22.8px;color:#64748b;letter-spacing:-0.773px;">120</span>
<span class="t" style="left:2052.30px;top:1107.20px;font-size:22.8px;color:#64748b;letter-spacing:0.941px;">60</span>
<span class="t" style="left:2065.91px;top:1214.20px;font-size:22.8px;color:#64748b;">0</span>
<span class="t" style="left:2057.65px;top:1237.10px;font-size:22.8px;color:#64748b;letter-spacing:0.087px;">Aug 04</span>
<span class="t" style="left:2286.91px;top:1237.10px;font-size:22.8px;color:#64748b;letter-spacing:-0.633px;">Aug 18</span>
<span class="t" style="left:2514.72px;top:1237.10px;font-size:22.8px;color:#64748b;letter-spacing:-0.773px;">Sep 01</span>
<span class="t" style="left:2742.08px;top:1237.10px;font-size:22.8px;color:#64748b;letter-spacing:-0.733px;">Sep 15</span>
<span class="t" style="left:2968.19px;top:1237.10px;font-size:22.8px;color:#64748b;letter-spacing:-0.193px;">Sep 29</span>
<span class="t" style="left:3198.85px;top:1237.10px;font-size:22.8px;color:#64748b;letter-spacing:-0.451px;">Oct 13</span>
<span class="t" style="left:3425.36px;top:1237.10px;font-size:22.8px;color:#64748b;letter-spacing:-0.071px;">Oct 27</span>
<span class="t" style="left:1965.70px;top:971.40px;font-size:21px;color:#64748b;letter-spacing:0.238px;transform:rotate(-90deg);transform-origin:50% 50%;">Count</span>
<div style="left:2688.9px;top:1326.9px;width:14.4px;height:14.4px;border-radius:50%;background:#bfdbfe"></div>
<span class="t" style="left:2714.80px;top:1322.75px;font-size:24.3px;color:#5b6980;letter-spacing:-0.555px;">False</span>
<div style="left:2794.4px;top:1326.9px;width:14.4px;height:14.4px;border-radius:50%;background:#5e9cf7"></div>
<span class="t" style="left:2819.70px;top:1322.75px;font-size:24.3px;color:#5b6980;letter-spacing:-0.054px;">True</span>
</section><section class="g" id="distribution">
<div class="card" style="left:292.30px;top:1436.00px;width:1645.40px;height:864.00px;"></div>
<span class="t" style="left:322.90px;top:1467.80px;font-size:38.2px;color:#0b1020;font-weight:700;-webkit-text-stroke:0;letter-spacing:-2.159px;">Distribution</span>
<span class="t" style="left:322.90px;top:1510.75px;font-size:24.3px;color:#64748b;letter-spacing:0.227px;">1,331 observations | Most frequent: False (784)</span>
<div style="left:403px;top:1979px;width:1503.5px;height:1.6px;background:#f0f3f7"></div>
<div style="left:477.8px;top:1577.4px;width:601px;height:402.5px;background:#3b82f6;border-radius:6.5px 6.5px 0 0"></div>
<div style="left:1230px;top:1699px;width:601.1px;height:280.9px;background:#3b82f6;border-radius:6.5px 6.5px 0 0"></div>
<span class="t" style="left:347.20px;top:1573.90px;font-size:22.8px;color:#64748b;letter-spacing:1.027px;">800</span>
<span class="t" style="left:347.20px;top:1660.70px;font-size:22.8px;color:#64748b;letter-spacing:1.027px;">600</span>
<span class="t" style="left:347.20px;top:1763.10px;font-size:22.8px;color:#64748b;letter-spacing:1.027px;">400</span>
<span class="t" style="left:348.30px;top:1866.00px;font-size:22.8px;color:#64748b;letter-spacing:0.477px;">200</span>
<span class="t" style="left:374.61px;top:1969.00px;font-size:22.8px;color:#64748b;">0</span>
<span class="t" style="left:751.80px;top:1991.40px;font-size:22px;color:#64748b;letter-spacing:-0.199px;">False</span>
<span class="t" style="left:1508.10px;top:1991.40px;font-size:22px;color:#64748b;letter-spacing:0.193px;">True</span>
<div style="left:990.5px;top:2081.8px;width:14.4px;height:14.4px;border-radius:50%;background:#3b82f6"></div>
<span class="t" style="left:1017.00px;top:2076.85px;font-size:24.3px;color:#5b6980;letter-spacing:0.282px;">has_hallucination</span>
</section><section class="g" id="confusion-matrix">
<div class="card" style="left:1967.30px;top:1436.00px;width:1645.30px;height:864.00px;"></div>
<span class="t" style="left:1998.20px;top:1467.80px;font-size:38.2px;color:#0b1020;font-weight:700;-webkit-text-stroke:0;letter-spacing:-2.151px;">Confusion Matrix</span>
<span class="t" style="left:1998.20px;top:1517.95px;font-size:24.3px;color:#64748b;letter-spacing:0.397px;">Agreement matrix between categorical scores</span>
<div style="left:2474.80px;top:1605.40px;width:108.60px;height:85.30px;background:#f3f5fa;border-radius:12px"></div>
<div style="left:2598.13px;top:1605.40px;width:108.60px;height:85.30px;background:#f3f5fa;border-radius:12px"></div>
<div style="left:2721.46px;top:1605.40px;width:108.60px;height:85.30px;background:#f3f5fa;border-radius:12px"></div>
<div style="left:2844.79px;top:1605.40px;width:108.60px;height:85.30px;background:#f3f5fa;border-radius:12px"></div>
<div style="left:2968.12px;top:1605.40px;width:108.60px;height:85.30px;background:#f3f5fa;border-radius:12px"></div>
<div style="left:2474.80px;top:1705.76px;width:108.60px;height:85.30px;background:#f3f5fa;border-radius:12px"></div>
<div style="left:2598.13px;top:1705.76px;width:108.60px;height:85.30px;background:#f3f5fa;border-radius:12px"></div>
<div style="left:2721.46px;top:1705.76px;width:108.60px;height:85.30px;background:#f3f5fa;border-radius:12px"></div>
<div style="left:2844.79px;top:1705.76px;width:108.60px;height:85.30px;background:#f3f5fa;border-radius:12px"></div>
<div style="left:2968.12px;top:1705.76px;width:108.60px;height:85.30px;background:#f3f5fa;border-radius:12px"></div>
<div style="left:2474.80px;top:1806.12px;width:108.60px;height:85.30px;background:#f3f5fa;border-radius:12px"></div>
<div style="left:2598.13px;top:1806.12px;width:108.60px;height:85.30px;background:#f3f5fa;border-radius:12px"></div>
<div style="left:2721.46px;top:1806.12px;width:108.60px;height:85.30px;background:#f3f5fa;border-radius:12px"></div>
<div style="left:2844.79px;top:1806.12px;width:108.60px;height:85.30px;background:#f3f5fa;border-radius:12px"></div>
<div style="left:2968.12px;top:1806.12px;width:108.60px;height:85.30px;background:#f3f5fa;border-radius:12px"></div>
<div style="left:2474.80px;top:1906.48px;width:108.60px;height:85.30px;background:#f3f5fa;border-radius:12px"></div>
<div style="left:2598.13px;top:1906.48px;width:108.60px;height:85.30px;background:#f3f5fa;border-radius:12px"></div>
<div style="left:2721.46px;top:1906.48px;width:108.60px;height:85.30px;background:#f3f5fa;border-radius:12px"></div>
<div style="left:2844.79px;top:1906.48px;width:108.60px;height:85.30px;background:#f3f5fa;border-radius:12px"></div>
<div style="left:2968.12px;top:1906.48px;width:108.60px;height:85.30px;background:#f3f5fa;border-radius:12px"></div>
<div style="left:2474.80px;top:2006.84px;width:108.60px;height:85.30px;background:#f3f5fa;border-radius:12px"></div>
<div style="left:2598.13px;top:2006.84px;width:108.60px;height:85.30px;background:#f3f5fa;border-radius:12px"></div>
<div style="left:2721.46px;top:2006.84px;width:108.60px;height:85.30px;background:#f3f5fa;border-radius:12px"></div>
<div style="left:2844.79px;top:2006.84px;width:108.60px;height:85.30px;background:#f3f5fa;border-radius:12px"></div>
<div style="left:2968.12px;top:2006.84px;width:108.60px;height:85.30px;background:#f3f5fa;border-radius:12px"></div>
<div style="left:2444.60px;top:1804.60px;width:662.40px;height:92.00px;background:#fff;border-radius:14px;box-shadow:0 2px 5px rgba(15,23,42,.055),0 0 1.5px rgba(15,23,42,.06)"></div>
<span class="t" style="left:2489.80px;top:1836.55px;font-size:24.3px;color:#5b6980;letter-spacing:0.369px;">Select a second score to view comparison heatmap</span>
</section></main>
</div></div>
</body></html>
